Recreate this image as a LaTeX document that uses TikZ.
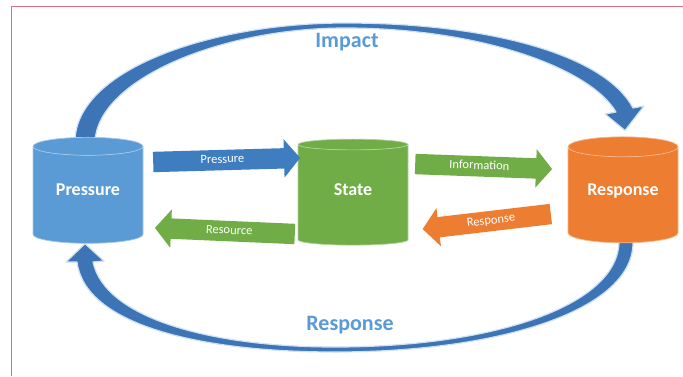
\documentclass[tikz,border=0pt]{standalone}
\usepackage{fontspec}
\setmainfont{Carlito}
\usetikzlibrary{shapes.geometric,shapes.arrows,calc,backgrounds}
\definecolor{cblue}{HTML}{5B9BD5}
\definecolor{cgreen}{HTML}{70AD47}
\definecolor{corange}{HTML}{ED7D31}
\definecolor{loopblue}{HTML}{3C74B6}
\definecolor{flowblue}{HTML}{3F7DC1}
\definecolor{framered}{HTML}{DE6F7E}
\tikzset{
  store/.style={cylinder, shape border rotate=90, aspect=0.28,
    minimum width=110pt, minimum height=106pt, inner sep=0pt,
    text height=13pt, text depth=12pt,
    cylinder uses custom fill, cylinder body fill=#1, cylinder end fill=#1,
    draw=#1!55!white, line width=0.7pt, text=white,
    font=\fontsize{18}{20}\selectfont\bfseries},
  flow/.style={single arrow, fill=#1, draw=none, text=white,
    single arrow head extend=9pt, single arrow tip angle=100,
    inner xsep=2pt, inner ysep=4pt, text height=9pt, text depth=3pt,
    font=\fontsize{12.5}{14}\selectfont},
  looplabel/.style={text=cblue, font=\fontsize{22}{24}\selectfont\bfseries},
  loop/.style={fill=loopblue, draw=cblue!30, line width=1.2pt, line join=round}
}
\begin{document}
\begin{tikzpicture}[x=1pt, y=-1pt]
\useasboundingbox (0,0) rectangle (683,376);

% the three stores
\node[store=cblue]   (pres)  at (88,195)  {Pressure};
\node[store=cgreen]  (state) at (353,195) {State};
\node[store=corange] (resp)  at (623,195) {Response};

% block arrows between the stores
\node[flow=flowblue, minimum height=147pt, anchor=tail, rotate=1.6]
  (pflow) at (153,162) {Pressure};
\node[flow=cgreen, minimum height=137pt, anchor=tail, rotate=-2.1]
  (iflow) at (415,164) {Information};
\node[flow=cgreen, minimum height=140pt, anchor=tail, shape border rotate=180, rotate=-2.5]
  (rflow) at (295,234) {Resource};
\node[flow=corange, minimum height=129pt, anchor=tail, shape border rotate=180, rotate=6.7]
  (sflow) at (551,214) {Response};

% white page, frame and the outer feedback loops behind the stores
\begin{scope}[on background layer]
  \fill[white] (0,0) rectangle (683,376);
  \draw[framered, line width=0.8pt] (683,6) -- (11,6) -- (11,376);
  \path[loop]
    ($(pres.north)+(-13,5)$) .. controls (75,70) and (210,23) .. (345,23)
      .. controls (490,23) and (605,55) .. (633,108)
    -- (644,106) -- ($(resp.north)+(2,-6)$) -- (605,114) -- (616,112)
      .. controls (590,68) and (480,28) .. (345,28)
      .. controls (220,28) and (97,80) .. ($(pres.north)+(7,5)$) -- cycle;
  \path[loop]
    ($(resp.south)+(10,-3)$) .. controls (636,310) and (500,352) .. (335,352)
      .. controls (200,352) and (85,325) .. (77,262)
    -- (66,262) -- ($(pres.south)+(-3,0)$) -- (104,261) -- (93,262)
      .. controls (105,318) and (210,347) .. (335,347)
      .. controls (495,347) and (620,305) .. ($(resp.south)+(-4,-3)$) -- cycle;
\end{scope}

\node[looplabel] (impact) at (347,42) {Impact};
\node[looplabel] (reply)  at (350,325) {Response};
\end{tikzpicture}
\end{document}
